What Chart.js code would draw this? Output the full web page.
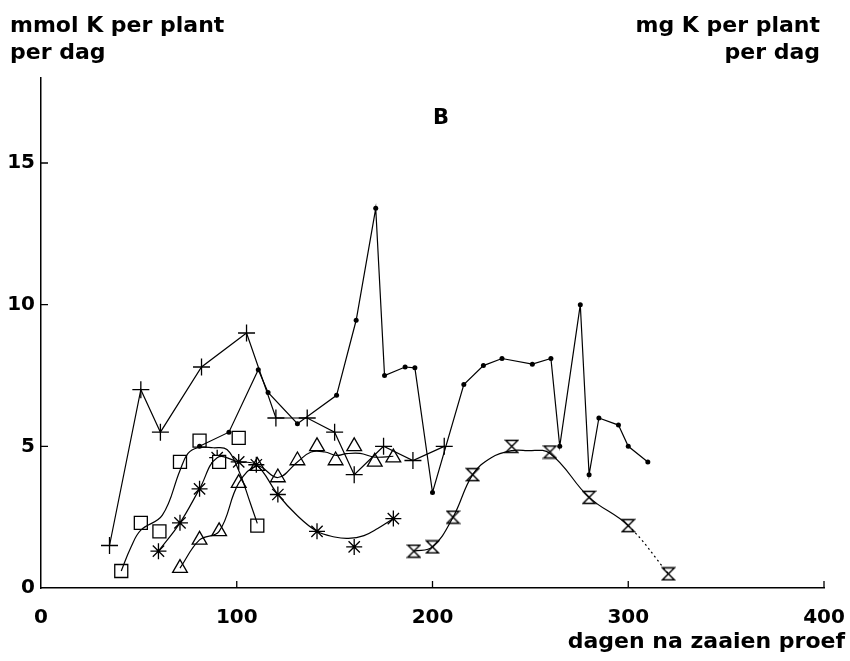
<!DOCTYPE html>
<html>
<head>
<meta charset="utf-8">
<script src="https://cdn.jsdelivr.net/npm/chart.js@4/dist/chart.umd.min.js"></script>
<style>
  body { margin: 0; background: #fff; }
  #wrap { position: relative; width: 850px; height: 661px; }
  .lbl { position: absolute; font-family: "DejaVu Sans", sans-serif; font-weight: bold; font-size: 22px; line-height: 27px; color: #000; white-space: nowrap; }
</style>
</head>
<body>
<div id="wrap">
  <canvas id="chart" width="850" height="661"></canvas>
  <div class="lbl" style="left:10px; top:11px;">mmol K per plant<br>per dag</div>
  <div class="lbl" style="right:30px; top:11px; text-align:right;">mg K per plant<br>per dag</div>
  <div class="lbl" style="left:433px; top:105px; font-size:21px; line-height:25px;">B</div>
  <div class="lbl" style="right:5px; top:627px;">dagen na zaaien proef</div>
</div>
<script>
// tick labels
const xTicks = [0, 100, 200, 300, 400];
const yTicks = [0, 5, 10, 15];

// + series (straight segments)
const plusX = [35, 51, 61, 82, 105, 120, 136, 150, 160, 175, 190, 206];
const plusY = [1.5, 7.0, 5.5, 7.8, 9.0, 6.0, 6.0, 5.5, 4.0, 5.0, 4.5, 5.0];

// dot series (straight segments)
const dotX = [81, 96, 111, 116, 131, 151, 161, 171, 175.5, 186, 191, 200, 216, 226, 235.5, 251, 260.5, 265, 275.5, 280, 285, 295, 300, 310];
const dotY = [5.0, 5.5, 7.7, 6.9, 5.8, 6.8, 9.45, 13.4, 7.5, 7.8, 7.77, 3.37, 7.18, 7.85, 8.1, 7.9, 8.1, 5.0, 10.0, 4.0, 6.0, 5.75, 5.0, 4.45];

// squares: measured points and drawn curve
const sqX = [41, 51, 60.5, 71, 81, 91, 101, 110.5];
const sqY = [0.6, 2.3, 2.0, 4.45, 5.2, 4.45, 5.3, 2.2];
const sqCurveX = [41, 46, 51, 62, 71, 75, 80, 88, 95, 101, 107, 110.5];
const sqCurveY = [0.6, 1.45, 2.04, 2.57, 4.15, 4.74, 4.95, 4.95, 4.89, 4.15, 2.98, 2.28];

// asterisks
const starX = [60, 71, 81, 90, 101, 110, 121, 141, 160, 180];
const starY = [1.3, 2.3, 3.5, 4.6, 4.45, 4.35, 3.3, 2.0, 1.45, 2.45];
const starCurveX = [60, 71, 81, 90, 101, 110, 121, 131, 141, 150, 157, 165, 172, 180];
const starCurveY = [1.3, 2.3, 3.5, 4.6, 4.45, 4.35, 3.3, 2.55, 2.0, 1.8, 1.75, 1.85, 2.1, 2.45];

// triangles
const triX = [71, 81, 91, 101, 110.5, 121, 131, 141, 150.5, 160, 170.5, 180];
const triY = [0.7, 1.7, 2.0, 3.7, 4.3, 3.9, 4.5, 5.0, 4.5, 5.0, 4.45, 4.6];
const triCurveX = [71, 81, 91, 101, 110.5, 121, 131, 138, 145, 151, 156, 163, 170.5, 180];
const triCurveY = [0.7, 1.7, 2.0, 3.7, 4.3, 3.9, 4.45, 4.8, 4.8, 4.68, 4.74, 4.75, 4.62, 4.65];

// hourglasses
const hgX = [190.5, 200, 210.5, 220.5, 240.5, 260, 280, 300, 320.5];
const hgY = [1.3, 1.45, 2.5, 4.0, 5.0, 4.8, 3.2, 2.2, 0.5];
const hgCurveX = [190.5, 200, 210.5, 220.5, 230, 240.5, 248, 260, 280, 300, 320.5];
const hgCurveY = [1.3, 1.45, 2.5, 4.0, 4.6, 4.85, 4.85, 4.75, 3.2, 2.2, 0.5];

const pts = (xs, ys) => xs.map((x, i) => ({ x: x, y: ys[i] }));

function hourglass() {
  const c = document.createElement('canvas');
  c.width = 15; c.height = 15;
  const g = c.getContext('2d');
  g.strokeStyle = '#000';
  g.lineWidth = 1.4;
  g.beginPath();
  g.moveTo(1.5, 1.5); g.lineTo(13.5, 1.5); g.lineTo(1.5, 13.5); g.lineTo(13.5, 13.5);
  g.closePath();
  g.stroke();
  return c;
}

function curve(xs, ys, extra) {
  return Object.assign({
    data: pts(xs, ys), showLine: true, tension: 0.4, pointRadius: 0,
    borderColor: '#000', borderWidth: 1.2
  }, extra || {});
}

function marks(xs, ys, style, r, bg) {
  return {
    data: pts(xs, ys), showLine: false, pointStyle: style, pointRadius: r,
    borderColor: '#000', backgroundColor: bg || 'rgba(0,0,0,0)', pointBorderWidth: 1.3
  };
}

const innerTicks = {
  id: 'innerTicks',
  afterDraw(chart) {
    const ctx = chart.ctx, x = chart.scales.x, y = chart.scales.y;
    ctx.save();
    ctx.strokeStyle = '#000';
    ctx.lineWidth = 1.3;
    ctx.beginPath();
    yTicks.slice(1).forEach(v => {
      const p = y.getPixelForValue(v);
      ctx.moveTo(x.left, p); ctx.lineTo(x.left + 7, p);
    });
    xTicks.slice(1).forEach(v => {
      const p = x.getPixelForValue(v);
      ctx.moveTo(p, y.bottom); ctx.lineTo(p, y.bottom - 7);
    });
    ctx.stroke();
    ctx.restore();
  }
};

const tickFont = { family: 'DejaVu Sans', weight: 'bold', size: 20 };

new Chart(document.getElementById('chart'), {
  type: 'scatter',
  data: {
    datasets: [
      curve(plusX, plusY, { tension: 0 }),
      curve(dotX, dotY, { tension: 0 }),
      curve(sqCurveX, sqCurveY),
      curve(starCurveX, starCurveY),
      curve(triCurveX, triCurveY),
      curve(hgCurveX, hgCurveY, {
        segment: { borderDash: c => c.p0.parsed.x >= 300 ? [2, 3] : undefined }
      }),
      marks(plusX, plusY, 'cross', 8.5),
      { data: pts(dotX, dotY), showLine: false, pointStyle: 'circle', pointRadius: 2.5,
        borderColor: '#000', backgroundColor: '#000', pointBorderWidth: 0 },
      marks(sqX, sqY, 'rect', 9.2, '#fff'),
      marks(starX, starY, 'star', 8),
      marks(triX, triY, 'triangle', 8.5),
      marks(hgX, hgY, hourglass(), 7)
    ]
  },
  options: {
    responsive: false,
    animation: false,
    devicePixelRatio: 1,
    layout: { padding: { top: 78, right: 26, left: 0, bottom: 0 } },
    plugins: { legend: { display: false }, tooltip: { enabled: false } },
    scales: {
      x: {
        type: 'linear', min: 0, max: 400,
        afterBuildTicks: s => { s.ticks = xTicks.map(v => ({ value: v })); },
        afterFit: s => { s.height = 73; s.paddingLeft = 0; s.paddingRight = 0; },
        grid: { display: false, drawTicks: false },
        border: { display: true, color: '#000', width: 1.5 },
        ticks: { color: '#000', font: tickFont, padding: 18, maxRotation: 0 }
      },
      y: {
        type: 'linear', min: 0, max: 18,
        afterBuildTicks: s => { s.ticks = yTicks.map(v => ({ value: v })); },
        afterFit: s => { s.width = 41; },
        grid: { display: false, drawTicks: false },
        border: { display: true, color: '#000', width: 1.5 },
        ticks: { color: '#000', font: tickFont, padding: 6 }
      }
    }
  },
  plugins: [innerTicks]
});
</script>
</body>
</html>
